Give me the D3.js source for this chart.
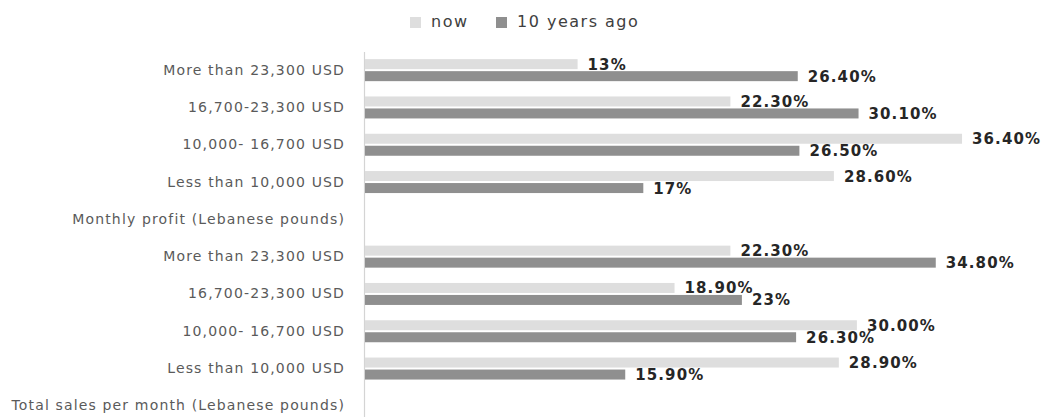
<!DOCTYPE html>
<html>
<head>
<meta charset="utf-8">
<script src="https://cdn.jsdelivr.net/npm/d3@7"></script>
<style>
  html, body { margin: 0; padding: 0; background: #ffffff; }
  svg { display: block; }
</style>
</head>
<body>
<svg id="chart" width="1042" height="417"></svg>
<script>
// ---- data ----
const categories = [
  "More than 23,300 USD",
  "16,700-23,300 USD",
  "10,000- 16,700 USD",
  "Less than 10,000 USD",
  "Monthly profit (Lebanese pounds)",
  "More than 23,300 USD",
  "16,700-23,300 USD",
  "10,000- 16,700 USD",
  "Less than 10,000 USD",
  "Total sales per month (Lebanese pounds)"
];
const seriesNames = ["now", "10 years ago"];
const nowValues = [13, 22.3, 36.4, 28.6, null, 22.3, 18.9, 30.0, 28.9, null];
const agoValues = [26.4, 30.1, 26.5, 17, null, 34.8, 23, 26.3, 15.9, null];
const nowLabels = ["13%", "22.30%", "36.40%", "28.60%", null, "22.30%", "18.90%", "30.00%", "28.90%", null];
const agoLabels = ["26.40%", "30.10%", "26.50%", "17%", null, "34.80%", "23%", "26.30%", "15.90%", null];

// ---- layout ----
const svg = d3.select("#chart");
const colors = ["#dedede", "#8f8f8f"];
const x0 = 364;
const x = d3.scaleLinear().domain([0, 40]).range([x0, x0 + 40 * 16.43]);
const y = d3.scaleBand().domain(d3.range(categories.length)).range([51.5, 424.5]).paddingInner(0).paddingOuter(0);

const barH = 10, gap = 1;

// axis
const yAxis = d3.axisLeft(y).tickSize(0).tickPadding(19).tickFormat(i => categories[i]);
const gAxis = svg.append("g").attr("transform", `translate(${x0},0)`).call(yAxis);
gAxis.select(".domain").attr("stroke", "#d4d4d4").attr("stroke-width", 1.2);
gAxis.selectAll(".tick text")
  .attr("fill", "#5a5a5a")
  .style("font-family", "'DejaVu Sans', sans-serif")
  .style("font-size", "14px")
  .style("letter-spacing", "1.15px");

const rows = d3.range(categories.length);
const series = [
  { name: seriesNames[0], values: nowValues, labels: nowLabels, off: -(gap + barH), color: colors[0] },
  { name: seriesNames[1], values: agoValues, labels: agoLabels, off: gap, color: colors[1] }
];

series.forEach(s => {
  const data = rows.filter(i => s.values[i] != null);
  svg.append("g").selectAll("rect").data(data).join("rect")
    .attr("x", x(0) + 1)
    .attr("y", i => y(i) + y.bandwidth() / 2 + s.off)
    .attr("width", i => x(s.values[i]) - x(0) - 1)
    .attr("height", barH)
    .attr("fill", s.color);
  svg.append("g").selectAll("text").data(data).join("text")
    .attr("x", i => x(s.values[i]) + 10)
    .attr("y", i => y(i) + y.bandwidth() / 2 + s.off + barH / 2 + 1)
    .attr("dominant-baseline", "middle")
    .attr("fill", "#262626")
    .style("font-family", "'DejaVu Sans', sans-serif")
    .style("font-weight", "bold")
    .style("font-size", "15px")
    .style("letter-spacing", "1.1px")
    .text(i => s.labels[i]);
});

// legend
const legend = svg.append("g");
const legendX = [410, 496];
seriesNames.forEach((n, k) => {
  legend.append("rect").attr("x", legendX[k]).attr("y", 17).attr("width", 11).attr("height", 11).attr("fill", colors[k]);
  legend.append("text").attr("x", legendX[k] + 21).attr("y", 22.5)
    .attr("dominant-baseline", "middle")
    .attr("fill", "#404040")
    .style("font-family", "'DejaVu Sans', sans-serif")
    .style("font-size", "16px")
    .style("letter-spacing", "1.5px")
    .text(n);
});
</script>
</body>
</html>
